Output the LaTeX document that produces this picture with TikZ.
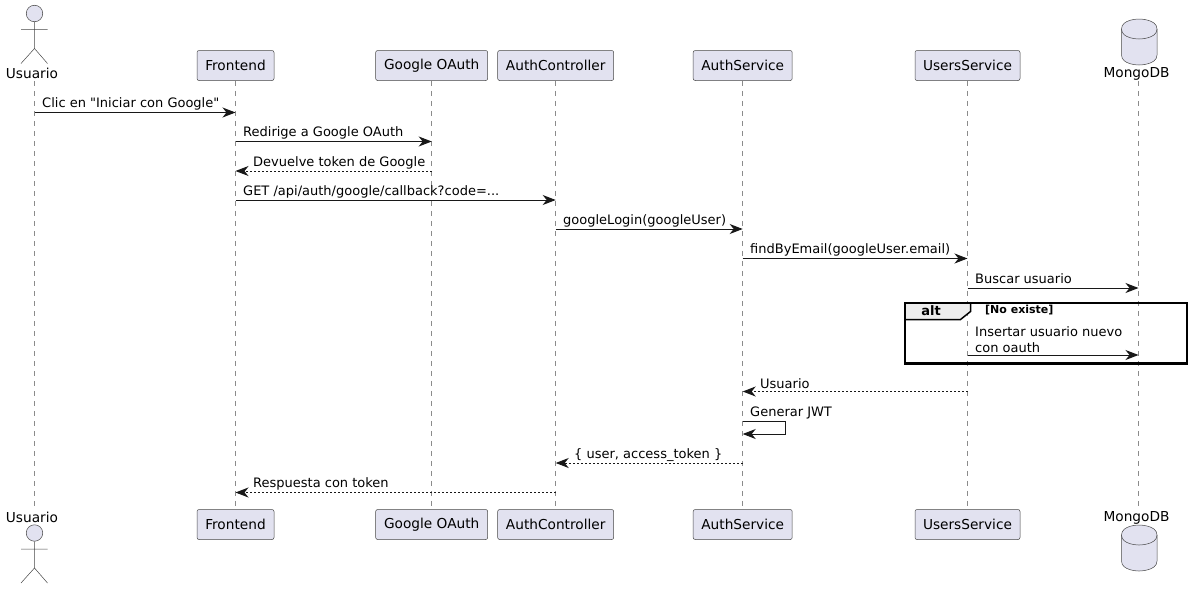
\documentclass[tikz,border=0pt]{standalone}
\usepackage{fontspec}
\setmainfont{DejaVu Sans}
\newfontfamily\plainquote{DejaVu Sans}
\usetikzlibrary{arrows.meta}
\definecolor{partfill}{HTML}{E2E2F0}
\definecolor{ink}{HTML}{181818}
\tikzstyle{part}=[draw=ink!80,fill=partfill,line width=0.5pt,rounded corners=2pt,minimum height=30pt,inner sep=0pt,text=black,font=\fontsize{13.7}{16}\selectfont]
\tikzstyle{figline}=[draw=ink!80,line width=0.5pt]
\tikzstyle{namelbl}=[inner sep=0pt,font=\fontsize{13.7}{16}\selectfont]
\tikzstyle{lifeline}=[draw=ink!50,line width=0.5pt,dash pattern=on 5pt off 5pt]
\tikzstyle{msg}=[draw=ink,line width=1pt,-{Stealth[length=13pt,width=10pt,inset=4pt]}]
\tikzstyle{back}=[msg,dash pattern=on 2pt off 2pt]
\tikzstyle{lbl}=[anchor=west,inner sep=0pt,font=\fontsize{13}{15}\selectfont]
\tikzstyle{altfont}=[inner sep=0pt,font=\fontsize{11}{13}\selectfont\bfseries]
\tikzset{
  actorpic/.pic={
    \node[figline,fill=partfill,circle,minimum size=16.5pt,inner sep=0pt] (-head) at (0,0) {};
    \draw[figline] (-head) -- (0,35) -- (-13.5,50) (0,35) -- (13,50) (-13.5,16) -- (13,16);
  },
  canpic/.pic={
    \draw[figline,fill=partfill] (-17.5,10) .. controls (-17.5,0) and (0,0) .. (0,0)
      .. controls (0,0) and (18,0) .. (18,10) -- (18,36)
      .. controls (18,46) and (0,46) .. (0,46)
      .. controls (0,46) and (-17.5,46) .. (-17.5,36) -- cycle;
    \draw[figline] (-17.5,10) .. controls (-17.5,20) and (0,20) .. (0,20)
      .. controls (0,20) and (18,20) .. (18,10);
  }
}

\begin{document}
\begin{tikzpicture}[x=1pt,y=-1pt]
    \useasboundingbox (0,0) rectangle (1191,589);
    % top row
    \node[part,minimum width=77pt] (front) at (235.5,65.5) {Frontend};
    \node[part,minimum width=112pt] (google) at (431.7,65.5) {Google OAuth};
    \node[part,minimum width=116pt] (ctrl) at (555.7,65.5) {AuthController};
    \node[part,minimum width=99pt] (auth) at (742.7,65.5) {AuthService};
    \node[part,minimum width=105pt] (users) at (967.5,65.5) {UsersService};
    % bottom row
    \node[part,minimum width=77pt] (front2) at (235.5,524.5) {Frontend};
    \node[part,minimum width=112pt] (google2) at (431.7,524.5) {Google OAuth};
    \node[part,minimum width=116pt] (ctrl2) at (555.7,524.5) {AuthController};
    \node[part,minimum width=99pt] (auth2) at (742.7,524.5) {AuthService};
    \node[part,minimum width=105pt] (users2) at (967.5,524.5) {UsersService};
    % actor and database
    \pic (usrfig) at (34.5,13.5) {actorpic};
    \pic (usrfig2) at (34.5,533) {actorpic};
    \pic (mongo) at (1139,19) {canpic};
    \pic (mongo2) at (1139,525) {canpic};
    \node[namelbl] (usr) at (32,73.5) {Usuario};
    \node[namelbl] (usr2) at (32,517.5) {Usuario};
    \node[namelbl] (db) at (1136.5,73.5) {MongoDB};
    \node[namelbl] (db2) at (1136.5,517.5) {MongoDB};
    % lifelines
    \coordinate (usrtop) at (34.5,81);
    \coordinate (usrend) at (34.5,506);
    \coordinate (dbtop) at (1138.5,81);
    \coordinate (dbend) at (1138.5,506);
    \foreach \from/\to in {usrtop/usrend,front/front2,google/google2,ctrl/ctrl2,auth/auth2,users/users2,dbtop/dbend}
    \draw[lifeline] (\from) -- (\to);
    % alt frame
    \coordinate (altnw) at (905,303);
    \coordinate (altse) at (1187,363.5);
    \draw[fill=ink!8,draw=black,line width=1.5pt] (altnw) -- (970.5,303) -- (970.5,311.5) -- (960.5,319.5) -- (905,319.5) -- cycle;
    \draw[draw=black,line width=2.2pt] (altnw) rectangle (altse);
    \node[altfont] (alttag) at (931,311) {\fontsize{13}{15}\selectfont alt};
    \node[altfont,anchor=west] (altcond) at (985,310.5) {[No existe]};
    % messages
    \foreach \from/\to/\ypos in {usrtop/front/112.5,front/google/141.5,front/ctrl/200,ctrl/auth/229,auth/users/258.5,users/dbtop/288,users/dbtop/355}
    \draw[msg] (\from |- 0,\ypos) -- (\to |- 0,\ypos);
    \foreach \from/\to/\ypos in {google/front/171,users/auth/391.5,auth/ctrl/463,ctrl/front/492.5}
    \draw[back] (\from |- 0,\ypos) -- (\to |- 0,\ypos);
    \coordinate (jwta) at (785,421);
    \coordinate (jwtb) at (785,434);
    \draw[msg] (auth |- jwta) -- (jwta) -- (jwtb) -- (auth |- jwtb);
    % labels
    \node[lbl] (m1) at (42,104) {\plainquote Clic en "Iniciar con Google"};
    \node[lbl] (m2) at (243,133) {Redirige a Google OAuth};
    \node[lbl] (m3) at (253,163) {Devuelve token de Google};
    \node[lbl] (m4) at (243,192) {GET /api/auth/google/callback?code=...};
    \node[lbl] (m5) at (563,221) {googleLogin(googleUser)};
    \node[lbl] (m6) at (750,250) {findByEmail(googleUser.email)};
    \node[lbl] (m7) at (975,279) {Buscar usuario};
    \node[lbl] (m8) at (975,332) {Insertar usuario nuevo};
    \node[lbl] (m8b) at (975,348) {con oauth};
    \node[lbl] (m9) at (760,384) {Usuario};
    \node[lbl] (m10) at (750,412.5) {Generar JWT};
    \node[lbl] (m11) at (574,455) {\{ user, access\_token \}};
    \node[lbl] (m12) at (253,484) {Respuesta con token};
\end{tikzpicture}
\end{document}
